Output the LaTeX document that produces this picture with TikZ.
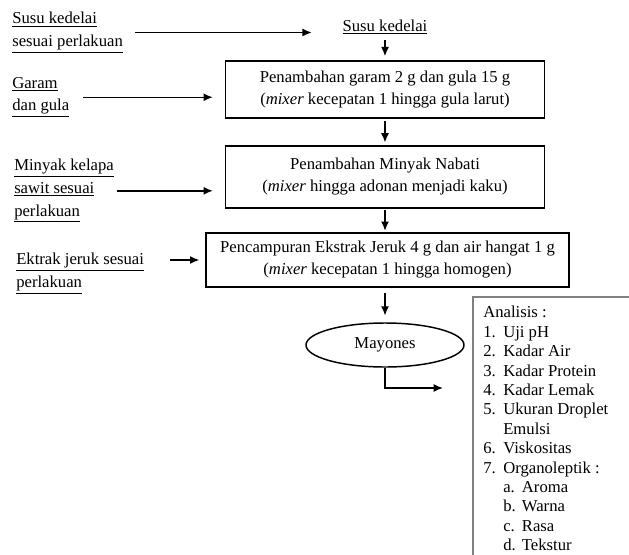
\documentclass[tikz,border=0pt]{standalone}
\usepackage{fontspec}
\setmainfont{Liberation Serif}
\usetikzlibrary{shapes.geometric,arrows.meta}

\begin{document}
\begin{tikzpicture}[x=0.75pt,y=-0.75pt,
        every node/.style={font=\fontsize{12.5}{16.5}\selectfont,inner sep=0pt},
        proses/.style={draw,line width=1.2pt,align=center},
        bahan/.style={align=left,anchor=north west,font=\fontsize{12.5}{17}\selectfont},
        panah/.style={-{Latex[length=7pt,width=6pt]},line width=1.1pt}]
        \useasboundingbox (0,0) rectangle (629,554);
        \clip (0,0) rectangle (629,554);

        % bahan di kiri
        \node [bahan] (susu)   at (12,12)   {\underline{Susu kedelai}\\\underline{sesuai perlakuan}};
        \node [bahan] (garam)  at (12,77)   {\underline{Garam}\\\underline{dan gula}};
        \node [bahan] (minyak) at (14,159)  {\underline{Minyak kelapa}\\\underline{sawit sesuai}\\\underline{perlakuan}};
        \node [bahan] (jeruk)  at (16,253)  {\underline{Ektrak jeruk sesuai}\\\underline{perlakuan}};

        % alur proses
        \node (kedelai) at (385,27) {\underline{Susu kedelai}};
        \node [proses,minimum width=239pt,minimum height=42.75pt] (tambah1) at (385,89.5)
              {Penambahan garam 2 g dan gula 15 g\\(\emph{mixer} kecepatan 1 hingga gula larut)};
        \node [proses,minimum width=239pt,minimum height=46.5pt] (tambah2) at (385,177)
              {Penambahan Minyak Nabati\\(\emph{mixer} hingga adonan menjadi kaku)};
        \node [proses,minimum width=272pt,minimum height=40.5pt] (campur) at (387.5,260)
              {Pencampuran Ekstrak Jeruk 4 g dan air hangat 1 g\\(\emph{mixer} kecepatan 1 hingga homogen)};
        \node [draw,ellipse,line width=1.1pt,minimum width=118.5pt,minimum height=33pt] (mayones) at (385,345) {Mayones};

        % analisis
        \draw [gray,line width=.8pt] (473,297) rectangle (660,600);
        \node [align=left,anchor=north west,font=\fontsize{12.5}{14.55}\selectfont] (analisis) at (483,306)
              {Analisis :\\
               \makebox[15pt][l]{1.}Uji pH\\
               \makebox[15pt][l]{2.}Kadar Air\\
               \makebox[15pt][l]{3.}Kadar Protein\\
               \makebox[15pt][l]{4.}Kadar Lemak\\
               \makebox[15pt][l]{5.}Ukuran Droplet\\
               \hspace*{15pt}Emulsi\\
               \makebox[15pt][l]{6.}Viskositas\\
               \makebox[15pt][l]{7.}Organoleptik :\\
               \hspace*{15pt}\makebox[14pt][l]{a.}Aroma\\
               \hspace*{15pt}\makebox[14pt][l]{b.}Warna\\
               \hspace*{15pt}\makebox[14pt][l]{c.}Rasa\\
               \hspace*{15pt}\makebox[14pt][l]{d.}Tekstur};

        % panah masuk
        \draw [panah,shorten <=9pt,shorten >=23pt] (susu.east) -- (susu.east -| kedelai.west);
        \draw [panah,shorten <=10.5pt,shorten >=9pt] (garam.east) -- (garam.east -| tambah1.west);
        \draw [panah,shorten <=2.5pt,shorten >=9pt] (minyak.east) -- (minyak.east -| tambah2.west);
        \draw [panah,shorten <=19pt,shorten >=4.5pt] (jeruk.east |- campur.west) -- (campur.west);

        % panah ke bawah
        \draw [panah,shorten <=4pt,shorten >=3pt] (kedelai.south) -- (tambah1.north);
        \draw [panah,shorten <=2pt,shorten >=2pt] (tambah1.south) -- (tambah2.north);
        \draw [panah,shorten <=1pt,shorten >=1pt] (tambah2.south) -- (tambah2.south |- campur.north);
        \draw [panah,shorten <=4pt,shorten >=5pt] (tambah2.south |- campur.south) -- (mayones.north);

        % ke analisis
        \coordinate (belok) at (385,388);
        \draw [panah,shorten >=30pt] (mayones.south) -- (belok) -- (belok -| analisis.west);
\end{tikzpicture}
\end{document}
